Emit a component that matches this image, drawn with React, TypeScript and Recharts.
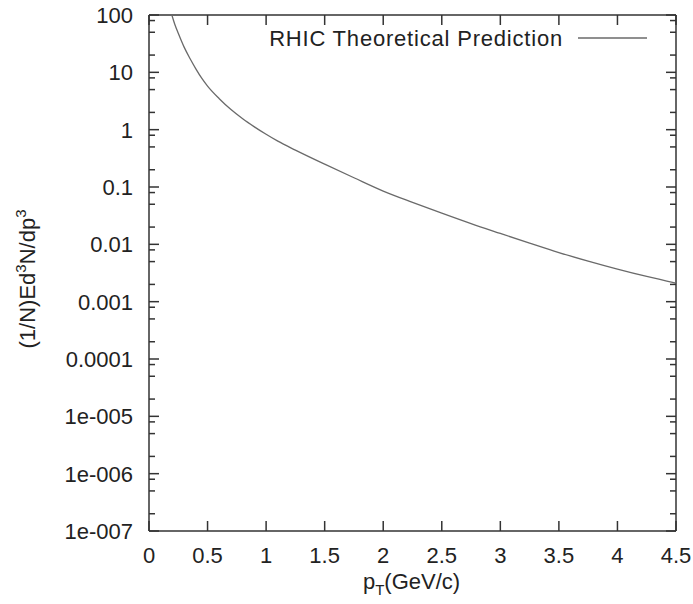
import React from 'react';
import { ComposedChart, Line, Scatter, XAxis, YAxis, ReferenceLine } from 'recharts';

// ---- Data ----
const pTValues = [
  0.195, 0.22, 0.25, 0.3, 0.35, 0.4, 0.45, 0.5, 0.6, 0.7, 0.8, 0.9, 1.0, 1.1,
  1.25, 1.5, 1.75, 2.0, 2.25, 2.5, 2.75, 3.0, 3.25, 3.5, 3.75, 4.0, 4.25, 4.5,
];
const yieldValues = [
  100, 69, 48, 27.5, 17.4, 11.5, 7.9, 5.75, 3.47, 2.24, 1.55, 1.12, 0.83, 0.63,
  0.44, 0.25, 0.145, 0.085, 0.054, 0.035, 0.023, 0.0155, 0.0105, 0.0072, 0.0051,
  0.0037, 0.00275, 0.0021,
];
const seriesName = 'RHIC Theoretical Prediction';

const xTicks = [0, 0.5, 1, 1.5, 2, 2.5, 3, 3.5, 4, 4.5];
const xTickLabels = ['0', '0.5', '1', '1.5', '2', '2.5', '3', '3.5', '4', '4.5'];
const yMajorTicks = [100, 10, 1, 0.1, 0.01, 0.001, 0.0001, 1e-5, 1e-6, 1e-7];
const yTickLabels = ['100', '10', '1', '0.1', '0.01', '0.001', '0.0001', '1e-005', '1e-006', '1e-007'];
const yMinorMultipliers = [2, 5, 8];

const data = pTValues.map((p, i) => ({ pT: p, value: yieldValues[i] }));

const yMinorTicks: number[] = [];
yMajorTicks.slice(1).forEach((m) => {
  yMinorMultipliers.forEach((k) => yMinorTicks.push(Number((m * k).toPrecision(3))));
});
const yAllTicks = [...yMajorTicks, ...yMinorTicks].sort((a, b) => a - b);

const X_DOMAIN: [number, number] = [0, 4.5];
const Y_DOMAIN: [number, number] = [1e-7, 100];

const rightTickPoints = yAllTicks.map((v) => ({ pT: X_DOMAIN[1], value: v }));
const topTickPoints = xTicks.map((t) => ({ pT: t, value: Y_DOMAIN[1] }));
// anchors for the legend and axis titles (placed through the chart's scales)
const annotationPoints = [
  { pT: X_DOMAIN[1], value: Y_DOMAIN[1], kind: 'legend' },
  { pT: (X_DOMAIN[0] + X_DOMAIN[1]) / 2, value: Y_DOMAIN[0], kind: 'xTitle' },
  { pT: X_DOMAIN[0], value: Math.sqrt(Y_DOMAIN[0] * Y_DOMAIN[1]), kind: 'yTitle' },
];

const FONT = '"Liberation Sans", Arial, Helvetica, sans-serif';
const TEXT = '#222';
const AXIS = '#333';
const CURVE = '#6a6a6a';
const TICK_W = 1.5;
const MAJOR = 10;
const MINOR = 6;
const W = 693;
const H = 604;
const MARGIN = { top: 15, right: 17, bottom: 13, left: 13 };

const majorIndex = (v: number) =>
  yMajorTicks.findIndex((t) => Math.abs(Math.log10(t) - Math.log10(v)) < 1e-6);
const xLabel = (v: number) => {
  const i = xTicks.findIndex((t) => Math.abs(t - v) < 1e-9);
  return i >= 0 ? xTickLabels[i] : String(v);
};

const LeftTick = (props: any) => {
  const { x, y, payload } = props;
  const i = majorIndex(payload.value);
  const len = i >= 0 ? MAJOR : MINOR;
  return (
    <g>
      <line x1={x} x2={x + len} y1={y} y2={y} stroke={AXIS} strokeWidth={TICK_W} />
      {i >= 0 && (
        <text x={x - 16} y={y + 8} textAnchor="end" fontSize={22} fontFamily={FONT} fill={TEXT}>
          {yTickLabels[i]}
        </text>
      )}
    </g>
  );
};

const RightTickShape = (p: any) => {
  const len = majorIndex(p.payload?.value ?? 1) >= 0 ? MAJOR : MINOR;
  return <line x1={p.cx} x2={p.cx - len} y1={p.cy} y2={p.cy} stroke={AXIS} strokeWidth={TICK_W} />;
};
const TopTickShape = (p: any) => (
  <line x1={p.cx} x2={p.cx} y1={p.cy} y2={p.cy + MAJOR} stroke={AXIS} strokeWidth={TICK_W} />
);

const AnnotationShape = (p: any) => {
  const { cx, cy, payload } = p;
  if (cx == null || cy == null) return <g />;
  if (payload.kind === 'legend') {
    return (
      <g>
        <text
          x={cx - 113}
          y={cy + 31}
          textAnchor="end"
          fontSize={22}
          fontFamily={FONT}
          fill={TEXT}
          letterSpacing={0.8}
        >
          {seriesName}
        </text>
        <line x1={cx - 98} x2={cx - 29} y1={cy + 23} y2={cy + 23} stroke={CURVE} strokeWidth={1.3} />
      </g>
    );
  }
  if (payload.kind === 'xTitle') {
    return (
      <text x={cx - 1} y={cy + 58} textAnchor="middle" fontSize={22} fontFamily={FONT} fill={TEXT}>
        p
        <tspan dy={6} fontSize={15}>T</tspan>
        <tspan dy={-6}>(GeV/c)</tspan>
      </text>
    );
  }
  const tx = cx - 114;
  const ty = cy + 6;
  return (
    <text
      x={tx}
      y={ty}
      transform={`rotate(-90, ${tx}, ${ty})`}
      textAnchor="middle"
      fontSize={22}
      fontFamily={FONT}
      fill={TEXT}
    >
      (1/N)Ed
      <tspan dy={-9} fontSize={15}>3</tspan>
      <tspan dy={9}>N/dp</tspan>
      <tspan dy={-9} fontSize={15}>3</tspan>
    </text>
  );
};

export default function App() {
  return (
    <div style={{ position: 'absolute', left: 0, top: 0 }}>
      <ComposedChart width={W} height={H} data={data} margin={MARGIN}>
        <XAxis
          dataKey="pT"
          type="number"
          domain={X_DOMAIN}
          ticks={xTicks}
          interval={0}
          height={60}
          tickSize={-MAJOR}
          tickMargin={26}
          tickLine={{ stroke: AXIS, strokeWidth: TICK_W }}
          axisLine={{ stroke: AXIS, strokeWidth: 1.5 }}
          tick={{ fontSize: 22, fill: TEXT, fontFamily: FONT }}
          tickFormatter={xLabel}
        />
        <YAxis
          scale="log"
          type="number"
          domain={Y_DOMAIN}
          ticks={yAllTicks}
          interval={0}
          width={136}
          tickSize={0}
          tickMargin={0}
          tickLine={false}
          axisLine={{ stroke: AXIS, strokeWidth: 1.5 }}
          tick={(p: any) => <LeftTick {...p} />}
        />
        <ReferenceLine y={Y_DOMAIN[1]} stroke={AXIS} strokeWidth={1.5} />
        <ReferenceLine x={X_DOMAIN[1]} stroke={AXIS} strokeWidth={1.5} />
        <Scatter data={rightTickPoints} dataKey="value" isAnimationActive={false} shape={(p: any) => <RightTickShape {...p} />} />
        <Scatter data={topTickPoints} dataKey="value" isAnimationActive={false} shape={(p: any) => <TopTickShape {...p} />} />
        <Scatter data={annotationPoints} dataKey="value" isAnimationActive={false} shape={(p: any) => <AnnotationShape {...p} />} />
        <Line dataKey="value" type="monotone" stroke={CURVE} strokeWidth={1.3} dot={false} isAnimationActive={false} />
      </ComposedChart>
    </div>
  );
}
